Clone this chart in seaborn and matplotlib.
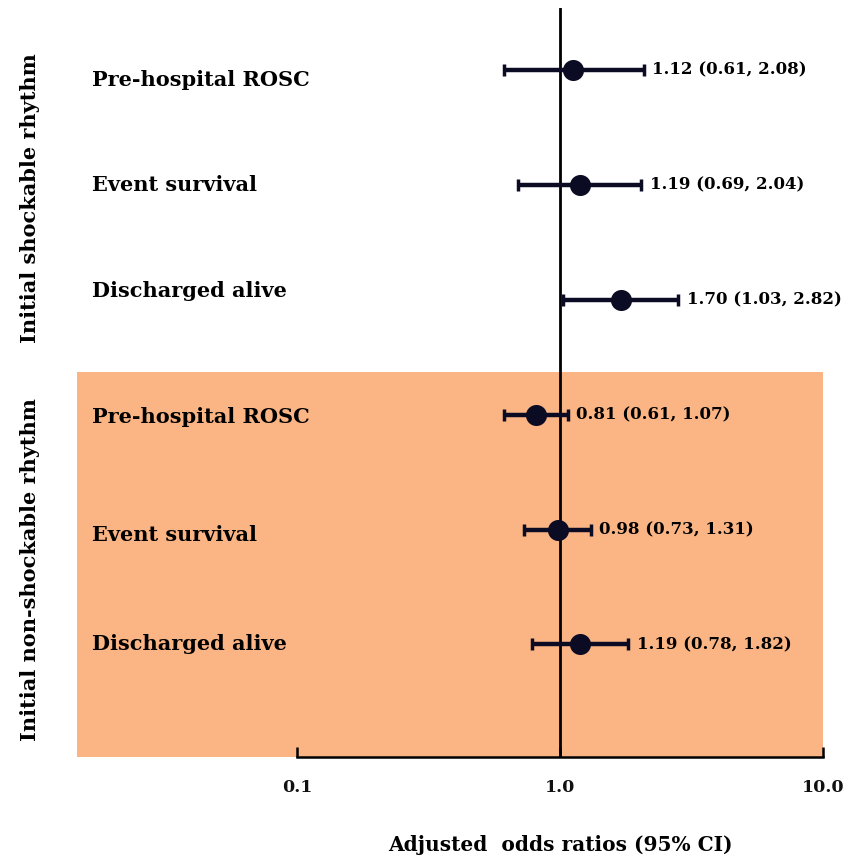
import pandas as pd
import matplotlib.pyplot as plt
import matplotlib.transforms as mtransforms
import seaborn as sns

# Forest plot data (adjusted odds ratios with 95% CI)
groups = ["Initial shockable rhythm", "Initial non-shockable rhythm"]
outcomes = ["Pre-hospital ROSC", "Event survival", "Discharged alive",
            "Pre-hospital ROSC", "Event survival", "Discharged alive"]
aor = [1.12, 1.19, 1.70, 0.81, 0.98, 1.19]
ci_low = [0.61, 0.69, 1.03, 0.61, 0.73, 0.78]
ci_high = [2.08, 2.04, 2.82, 1.07, 1.31, 1.82]
xticks = [0.1, 1.0, 10.0]
xtick_labels = ["0.1", "1.0", "10.0"]

df = pd.DataFrame({"outcome": outcomes, "aor": aor, "lo": ci_low, "hi": ci_high})
df["row"] = range(len(df))

sns.set_theme(style="white")
plt.rcParams['font.family'] = ['DejaVu Serif']
plt.rcParams['text.color'] = 'black'

fig = plt.figure(figsize=(8.47, 8.57), dpi=100)
ax = fig.add_axes([77 / 847, 1 - 757 / 857, (823 - 77) / 847, (757 - 8) / 857])

dark = "#0b0c24"
orange = "#fbb584"

ax.set_xscale("log")
ax.set_xlim(0.01457, 10)
ax.set_ylim(5.98, -0.54)

# shaded block for the non-shockable group
ax.axhspan(2.63, 5.98, color=orange, lw=0, zorder=0)
ax.axvline(1.0, color="black", lw=2, zorder=1)

ax.errorbar(df["aor"], df["row"],
            xerr=[df["aor"] - df["lo"], df["hi"] - df["aor"]],
            fmt="none", ecolor=dark, elinewidth=3.2, capsize=4, capthick=2.5, zorder=2)
sns.scatterplot(data=df, x="aor", y="row", color=dark, s=230,
                edgecolor=dark, linewidth=0, zorder=3, ax=ax, legend=False)

# CI text right of each bar
for _, r in df.iterrows():
    ax.annotate(f"{r['aor']:.2f} ({r['lo']:.2f}, {r['hi']:.2f})",
                xy=(r["hi"], r["row"]), xytext=(6, 0), textcoords="offset points",
                ha="left", va="center", fontsize=12, fontweight="bold", color="black")

# outcome labels: x in figure coords, y in data coords
trans = mtransforms.blended_transform_factory(fig.transFigure, ax.transData)
label_shift = [0.09, 0.0, -0.08, 0.02, 0.05, 0.0]
for i, name in enumerate(outcomes):
    fig.text(92 / 847, i + label_shift[i], name, transform=trans,
             ha="left", va="center", fontsize=15, fontweight="bold", color="black")

# group labels
fig.text(30 / 847, 1 - 198 / 857, groups[0], rotation=90, ha="center", va="center",
         fontsize=15, fontweight="bold", color="black")
fig.text(30 / 847, 1 - 570 / 857, groups[1], rotation=90, ha="center", va="center",
         fontsize=15, fontweight="bold", color="black")

# axes styling
for s in ["top", "left", "right"]:
    ax.spines[s].set_visible(False)
ax.spines["bottom"].set_bounds(0.1, 10)
ax.spines["bottom"].set_linewidth(1.8)
ax.spines["bottom"].set_color("black")
ax.set_xticks(xticks)
ax.set_xticklabels(xtick_labels, fontsize=12.5, fontweight="bold", color="#111111")
ax.minorticks_off()
ax.tick_params(axis="x", direction="in", length=7, width=1.8, color="black", pad=16, bottom=True)
ax.set_yticks([])
ax.set_ylabel("")
ax.set_xlabel("Adjusted  odds ratios (95% CI)", fontsize=14.5, fontweight="bold", color="black")
ax.xaxis.set_label_coords((560 - 77) / 746, -0.104)

fig.savefig("out.png", dpi=100)
